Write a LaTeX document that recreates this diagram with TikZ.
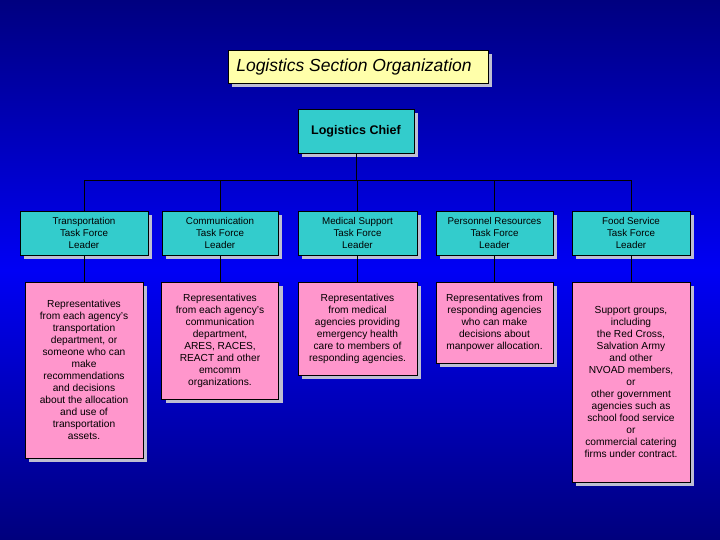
\documentclass[tikz,border=0pt]{standalone}
\usepackage{fontspec}
\setmainfont{Liberation Sans}
\definecolor{bgtop}{RGB}{0,0,128}
\definecolor{bgmid}{RGB}{0,0,245}
\definecolor{bgbot}{RGB}{0,0,125}
\definecolor{titleyellow}{RGB}{255,255,170}
\definecolor{boxcyan}{RGB}{51,204,204}
\definecolor{boxpink}{RGB}{255,150,204}
\definecolor{shadowgrey}{RGB}{190,190,210}
\usetikzlibrary{shadows,positioning}

\begin{document}
\begin{tikzpicture}[x=1pt, y=-1pt,
  boxbase/.style={draw=black, line width=0.7pt, align=center, inner sep=2pt,
    drop shadow={shadow xshift=4pt, shadow yshift=-4pt, fill=shadowgrey, opacity=1}},
  titlebox/.style={boxbase, fill=titleyellow, minimum width=260pt, minimum height=33pt, font=\fontsize{17.5}{20}\selectfont\itshape},
  chiefbox/.style={boxbase, fill=boxcyan, minimum width=116pt, minimum height=44pt, font=\fontsize{12.5}{15}\selectfont\bfseries},
  leadbox/.style={boxbase, fill=boxcyan, minimum height=44pt, font=\fontsize{9.8}{12}\selectfont},
  repbox/.style={boxbase, fill=boxpink, font=\fontsize{10.2}{12}\selectfont},
  link/.style={draw=black, line width=1pt}]
  \shade[top color=bgtop, bottom color=bgmid] (0,0) rectangle (720,270);
  \shade[top color=bgmid, bottom color=bgbot] (0,270) rectangle (720,540);
  \useasboundingbox (0,0) rectangle (720,540);

  \node[titlebox] (title) at (358,66.5) {Logistics Section Organization\hspace{8pt}};
  \node[chiefbox] (chief) at (356,131) {Logistics Chief};
  \coordinate (bus) at (356,181);

  \node[leadbox, minimum width=128pt] (lead1) at (84,233) {Transportation\\Task Force\\Leader};
  \node[leadbox, minimum width=116pt] (lead2) at (220,233) {Communication\\Task Force\\Leader};
  \node[leadbox, minimum width=119pt] (lead3) at (357.5,233) {Medical Support\\Task Force\\Leader};
  \node[leadbox, minimum width=117pt] (lead4) at (494.5,233) {Personnel Resources\\Task Force\\Leader};
  \node[leadbox, minimum width=118pt] (lead5) at (631,233) {Food Service\\Task Force\\Leader};

  \node[repbox, minimum width=118pt, minimum height=176pt] (rep1) at (84,370) {Representatives\\from each agency's\\transportation\\department, or\\someone who can\\make\\recommendations\\and decisions\\about the allocation\\and use of\\transportation\\assets.};
  \node[repbox, minimum width=117pt, minimum height=117pt] (rep2) at (220,340.5) {Representatives\\from each agency's\\communication\\department,\\ARES, RACES,\\REACT and other\\emcomm\\organizations.};
  \node[repbox, minimum width=119pt, minimum height=93pt] (rep3) at (357.5,328.5) {Representatives\\from medical\\agencies providing\\emergency health\\care to members of\\responding agencies.};
  \node[repbox, minimum width=117pt, minimum height=81pt] (rep4) at (494.5,322.5) {Representatives from\\responding agencies\\who can make\\decisions about\\manpower allocation.};
  \node[repbox, minimum width=118pt, minimum height=200pt] (rep5) at (631,382) {Support groups,\\including\\the Red Cross,\\Salvation Army\\and other\\NVOAD members,\\or\\other government\\agencies such as\\school food service\\or\\commercial catering\\firms under contract.};

  \draw[link] (chief.south) -- (bus);
  \foreach \i in {1,...,5} {
    \draw[link] (bus) -| (lead\i.north);
    \draw[link] (lead\i.south) -- (rep\i.north);
  }
\end{tikzpicture}
\end{document}
